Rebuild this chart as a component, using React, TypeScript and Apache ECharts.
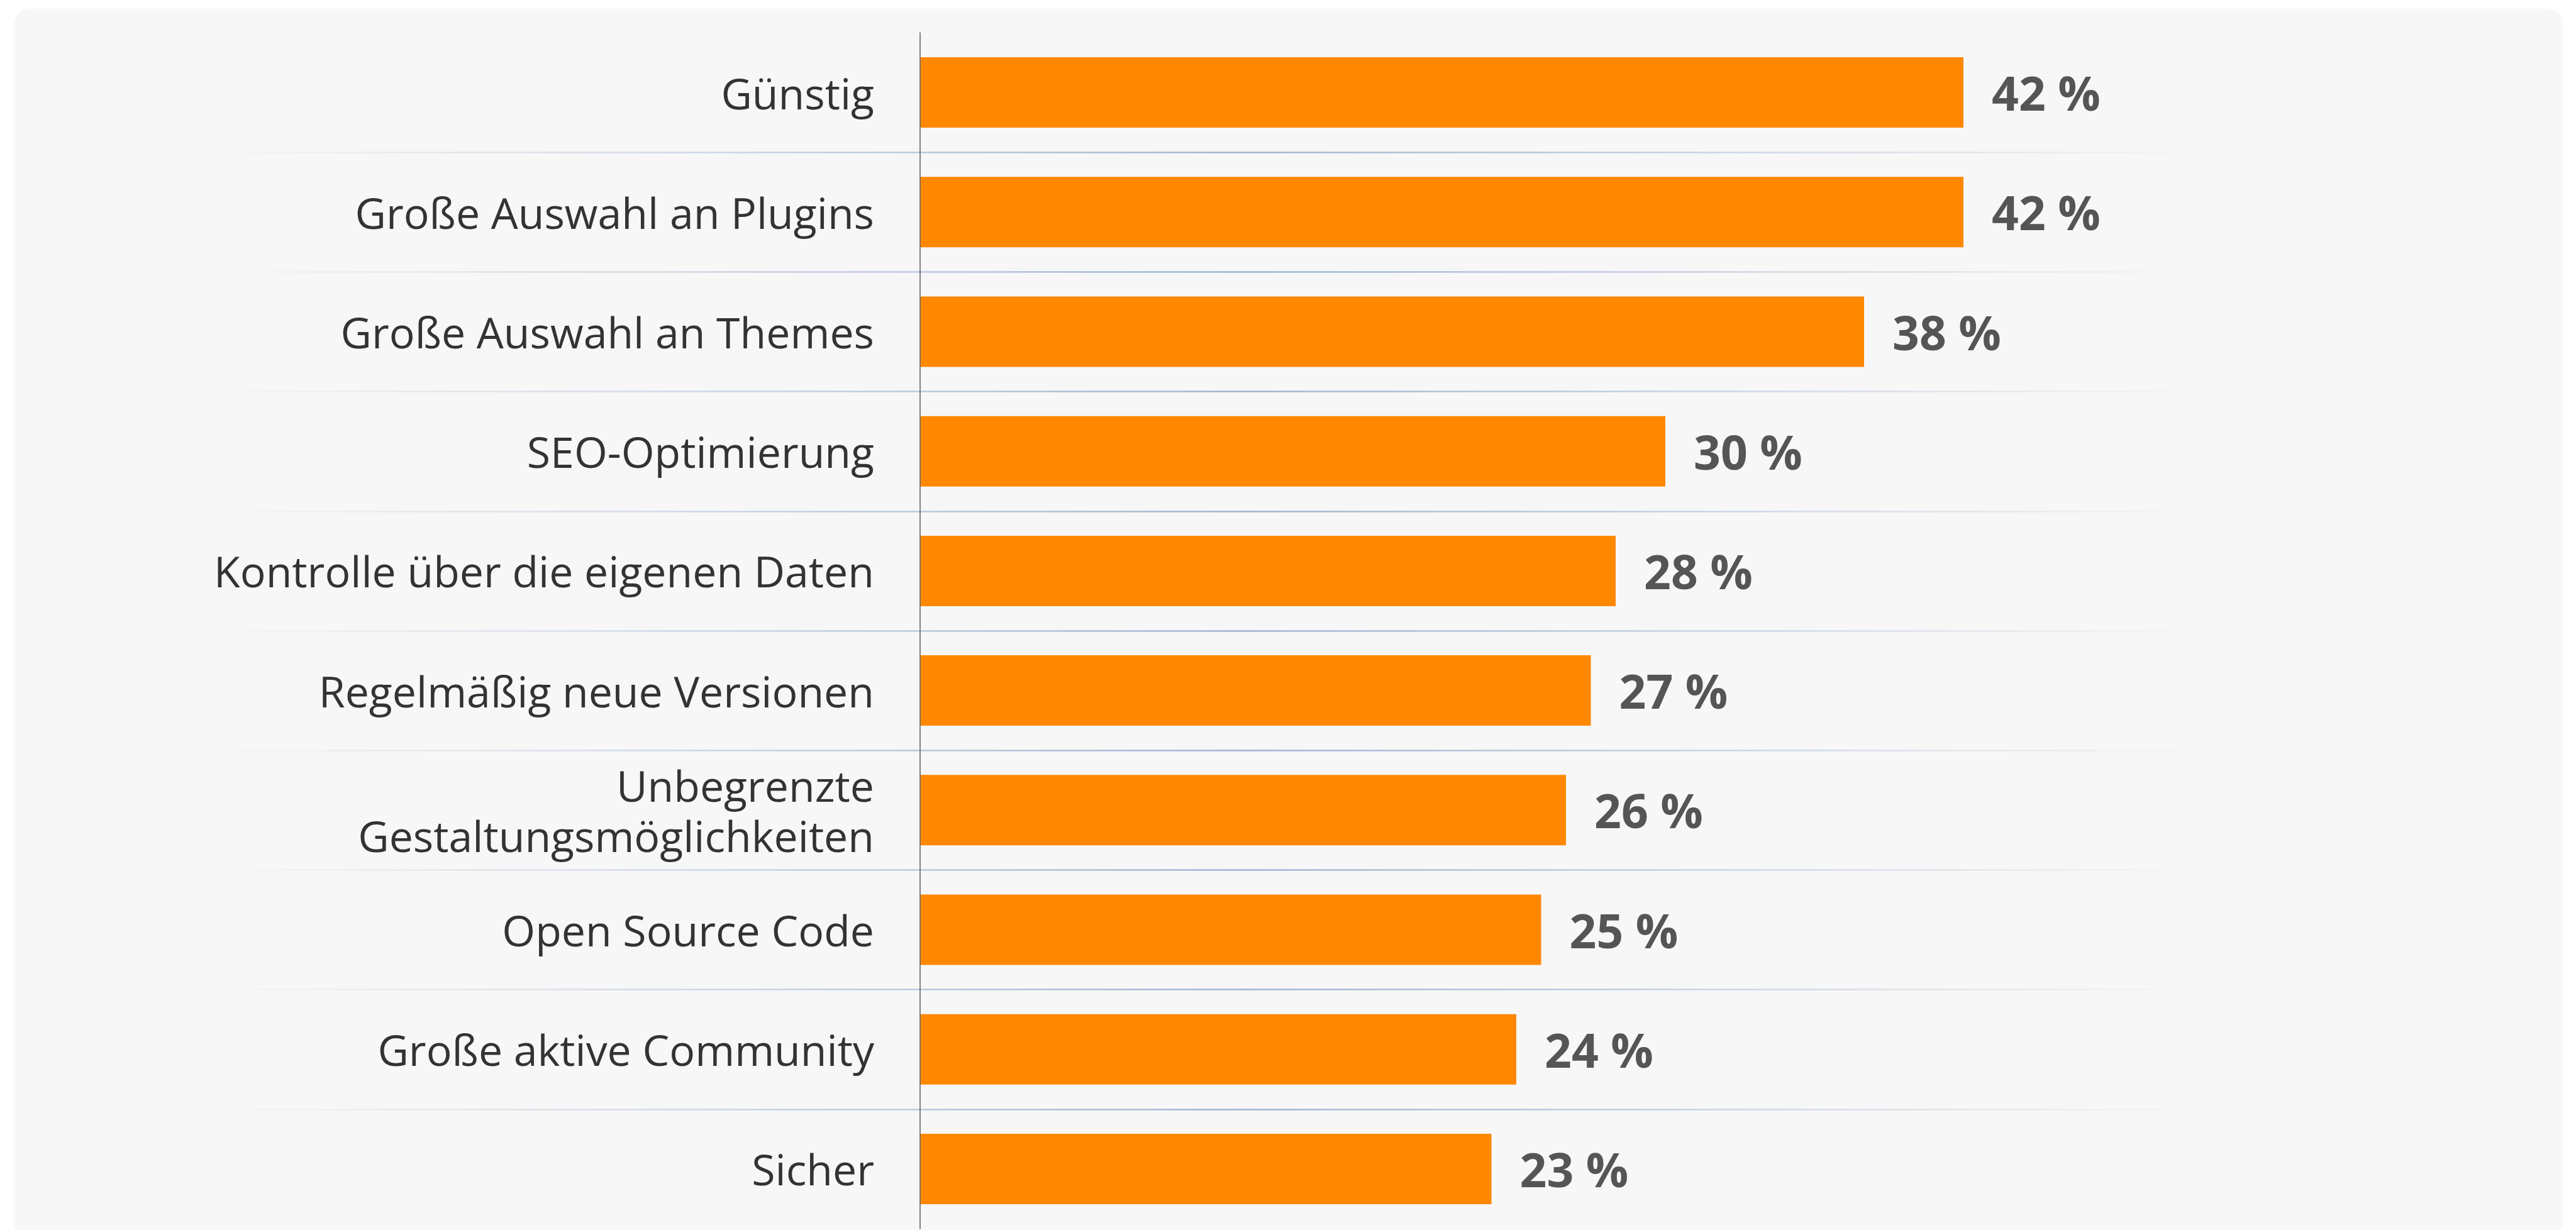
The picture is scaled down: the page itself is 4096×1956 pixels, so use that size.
import React, { useEffect, useRef } from "react";
import * as echarts from "echarts";

const CATEGORIES: string[] = [
  "Günstig",
  "Große Auswahl an Plugins",
  "Große Auswahl an Themes",
  "SEO-Optimierung",
  "Kontrolle über die eigenen Daten",
  "Regelmäßig neue Versionen",
  "Unbegrenzte\nGestaltungsmöglichkeiten",
  "Open Source Code",
  "Große aktive Community",
  "Sicher",
];

const VALUES: number[] = [42, 42, 38, 30, 28, 27, 26, 25, 24, 23];

const VALUE_MIN = 0;
const VALUE_MAX = 60;

const W = 4096;
const H = 1956;

export default function App() {
  const ref = useRef<HTMLDivElement>(null);

  useEffect(() => {
    if (!ref.current) return;
    const chart = echarts.init(ref.current, null, { renderer: "svg" });

    const gridTop = 52;
    const gridBottom = H - 1954;
    const axisX = 1463;
    const pxPerUnit = 39.5;
    const gridRight = W - (axisX + pxPerUnit * (VALUE_MAX - VALUE_MIN));

    const sepLeft = 317;
    const sepRight = 3516;

    const option: any = {
      animation: false,
      backgroundColor: "#ffffff",
      graphic: [
        {
          type: "rect",
          z: -10,
          silent: true,
          shape: { x: 22.5, y: 13.4, width: 4052, height: 1954, r: 24 },
          style: { fill: "#f7f7f7" },
        },
      ],
      grid: [
        {
          left: axisX,
          right: gridRight,
          top: gridTop,
          bottom: gridBottom,
          containLabel: false,
        },
        {
          left: sepLeft,
          right: W - sepRight,
          top: gridTop,
          bottom: gridBottom,
          containLabel: false,
        },
      ],
      xAxis: [
        {
          type: "value",
          gridIndex: 0,
          min: VALUE_MIN,
          max: VALUE_MAX,
          show: false,
        },
        {
          type: "value",
          gridIndex: 1,
          min: 0,
          max: 1,
          show: false,
        },
      ],
      yAxis: [
        {
          type: "category",
          gridIndex: 0,
          data: CATEGORIES,
          inverse: true,
          z: 5,
          axisLine: {
            show: true,
            lineStyle: { color: "#6a6a6a", width: 1.7 },
          },
          axisTick: { show: false },
          splitLine: { show: false },
          axisLabel: {
            margin: 73,
            fontSize: 68,
            lineHeight: 80,
            color: "#333333",
            fontFamily: "'Open Sans', sans-serif",
            align: "right",
          },
        },
        {
          type: "category",
          gridIndex: 1,
          data: CATEGORIES,
          inverse: true,
          z: 1,
          axisLine: { show: false },
          axisTick: { show: false },
          axisLabel: { show: false },
          splitLine: {
            show: true,
            showMinLine: false,
            showMaxLine: false,
            lineStyle: {
              width: 2.5,
              color: new echarts.graphic.LinearGradient(
                sepLeft,
                0,
                sepRight,
                0,
                [
                  { offset: 0, color: "rgba(160,180,208,0)" },
                  { offset: 0.52, color: "rgba(160,180,208,1)" },
                  { offset: 1, color: "rgba(160,180,208,0)" },
                ],
                true
              ),
            },
          },
        },
      ],
      series: [
        {
          type: "bar",
          xAxisIndex: 0,
          yAxisIndex: 0,
          data: VALUES,
          barWidth: 112,
          z: 3,
          itemStyle: { color: "#ff8800" },
          label: {
            show: true,
            position: "right",
            distance: 45,
            fontSize: 75,
            fontWeight: "bold",
            color: "#555555",
            fontFamily: "'Open Sans', sans-serif",
            formatter: (p: any) => `${p.value} %`,
          },
        },
      ],
    };

    chart.setOption(option);
    return () => {
      chart.dispose();
    };
  }, []);

  return (
    <div
      ref={ref}
      style={{ position: "fixed", left: 0, top: 0, width: W, height: H }}
    />
  );
}
